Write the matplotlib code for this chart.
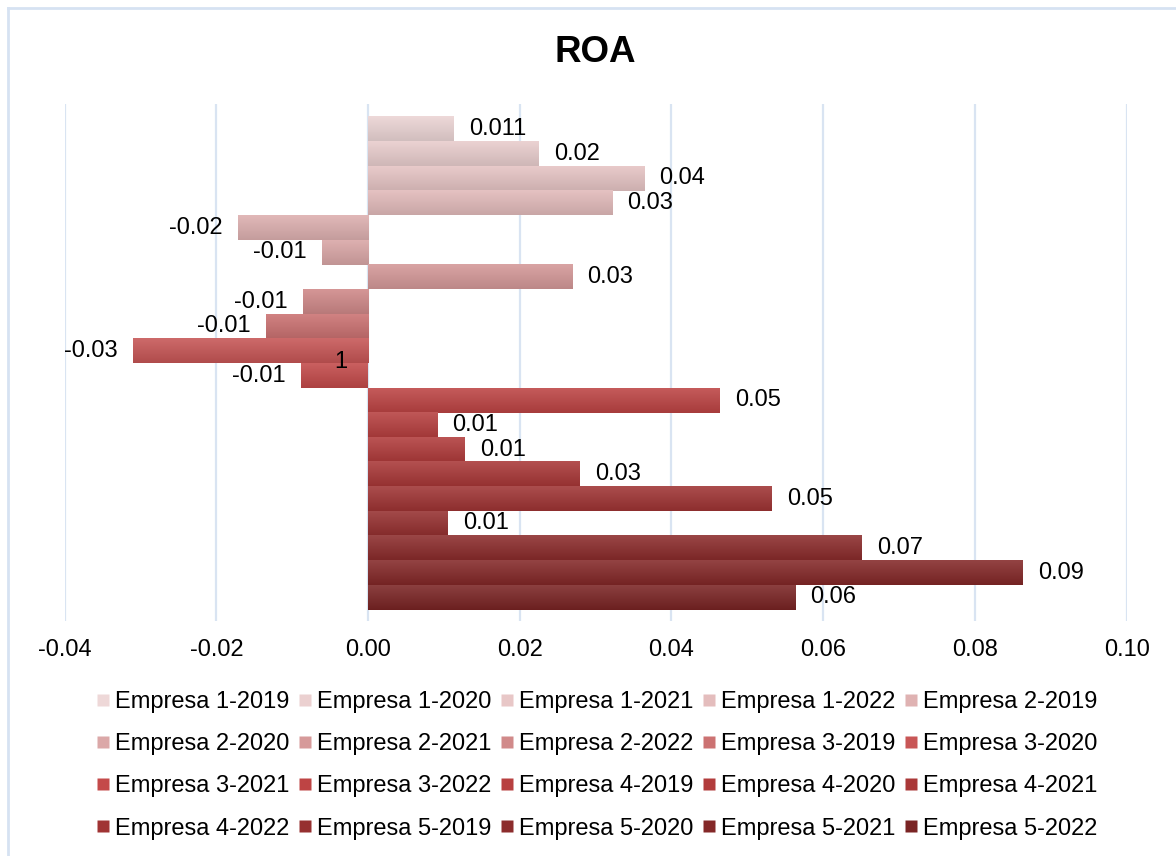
import numpy as np
import matplotlib
matplotlib.use("Agg")
import matplotlib.pyplot as plt
from matplotlib.colors import to_rgb
from matplotlib.lines import Line2D

plt.rcParams['font.family'] = ['Liberation Sans', 'DejaVu Sans']

# series names (one bar per series) and ROA values
series = ["Empresa 1-2019", "Empresa 1-2020", "Empresa 1-2021", "Empresa 1-2022",
          "Empresa 2-2019", "Empresa 2-2020", "Empresa 2-2021", "Empresa 2-2022",
          "Empresa 3-2019", "Empresa 3-2020", "Empresa 3-2021", "Empresa 3-2022",
          "Empresa 4-2019", "Empresa 4-2020", "Empresa 4-2021", "Empresa 4-2022",
          "Empresa 5-2019", "Empresa 5-2020", "Empresa 5-2021", "Empresa 5-2022"]
roa = [0.0113, 0.0225, 0.0364, 0.0322,
       -0.0172, -0.0061, 0.0269, -0.0086,
       -0.0135, -0.0310, -0.0088, 0.0464,
       0.0091, 0.0127, 0.0279, 0.0532,
       0.0105, 0.0651, 0.0863, 0.0563]
labels = ["0.011", "0.02", "0.04", "0.03",
          "-0.02", "-0.01", "0.03", "-0.01",
          "-0.01", "-0.03", "-0.01", "0.05",
          "0.01", "0.01", "0.03", "0.05",
          "0.01", "0.07", "0.09", "0.06"]
xticks = [-0.04, -0.02, 0.00, 0.02, 0.04, 0.06, 0.08, 0.10]

colors = ["#eed8d8", "#ebd0d0", "#e8c7c7", "#e4bdbd", "#dfb2b2",
          "#dba8a8", "#d69a9a", "#d18a8a", "#cc7272", "#c85656",
          "#c44a4a", "#be4444", "#b84040", "#b23c3c", "#aa3838",
          "#a03434", "#963030", "#8c2c2c", "#842828", "#7a2424"]

fig = plt.figure(figsize=(11.76, 8.56), dpi=100)
ax = fig.add_axes([0.055, 0.2745, 0.903, 0.604])

y = np.arange(len(series))
bars = ax.barh(y, roa, height=1.0, color=colors, zorder=2)

# excel-like vertical gradient on each bar
for b, c in zip(bars, colors):
    base = np.array(to_rgb(c))
    top = base * 0.85 + np.array([0.92, 0.86, 0.86]) * 0.15
    bot = base * 0.88
    t = np.linspace(0, 1, 40)[:, None]
    grad = (top[None, :] * (1 - t) + bot[None, :] * t)[:, None, :]
    x0 = b.get_x()
    x1 = x0 + b.get_width()
    yc = b.get_y() + b.get_height() / 2
    ax.imshow(grad, extent=(min(x0, x1), max(x0, x1), yc + 0.5, yc - 0.5),
              origin='upper', aspect='auto', zorder=3, interpolation='bilinear')

for v, yy, lab in zip(roa, y, labels):
    off = 11 if v >= 0 else -11
    ax.annotate(lab, (v, yy), xytext=(off, 0), textcoords='offset points',
                ha='left' if v >= 0 else 'right', va='center', fontsize=17, zorder=4)

# stray label in the original chart
ax.text(-0.0036, 9.45, "1", ha='center', va='center', fontsize=17, zorder=4)

ax.set_xlim(-0.04, 0.10)
ax.set_ylim(len(series) - 0.5 + 0.46, -0.5 - 0.52)
ax.set_xticks(xticks)
ax.set_xticklabels([f"{t:.2f}" for t in xticks], fontsize=17)
ax.set_yticks([])
ax.tick_params(axis='x', length=0, pad=13)
ax.grid(axis='x', color='#d9e4f2', linewidth=1.6, zorder=0)
ax.set_axisbelow(True)
for s in ax.spines.values():
    s.set_visible(False)

fig.text(0.506, 0.939, "ROA", ha='center', va='center', fontsize=26.5, fontweight='bold')

# legend filled row by row (matplotlib fills columns first)
handles = [Line2D([], [], marker='s', linestyle='none', markersize=8,
                  markerfacecolor=c, markeredgecolor='none') for c in colors]
nrow, ncol = 4, 5
order = [r * ncol + c for c in range(ncol) for r in range(nrow)]
fig.legend([handles[i] for i in order], [series[i] for i in order],
           ncol=ncol, loc='center', bbox_to_anchor=(0.508, 0.106), frameon=False,
           fontsize=17, handlelength=0.5, handletextpad=0.25, columnspacing=0.42,
           labelspacing=0.86, borderpad=0)

# chart-area border (only top and left visible in the original)
fig.add_artist(Line2D([8 / 1176, 1], [1 - 8 / 856, 1 - 8 / 856], color='#d6e2f2', linewidth=2))
fig.add_artist(Line2D([8 / 1176, 8 / 1176], [0, 1 - 8 / 856], color='#d6e2f2', linewidth=2))

fig.savefig("out.png", dpi=100)
